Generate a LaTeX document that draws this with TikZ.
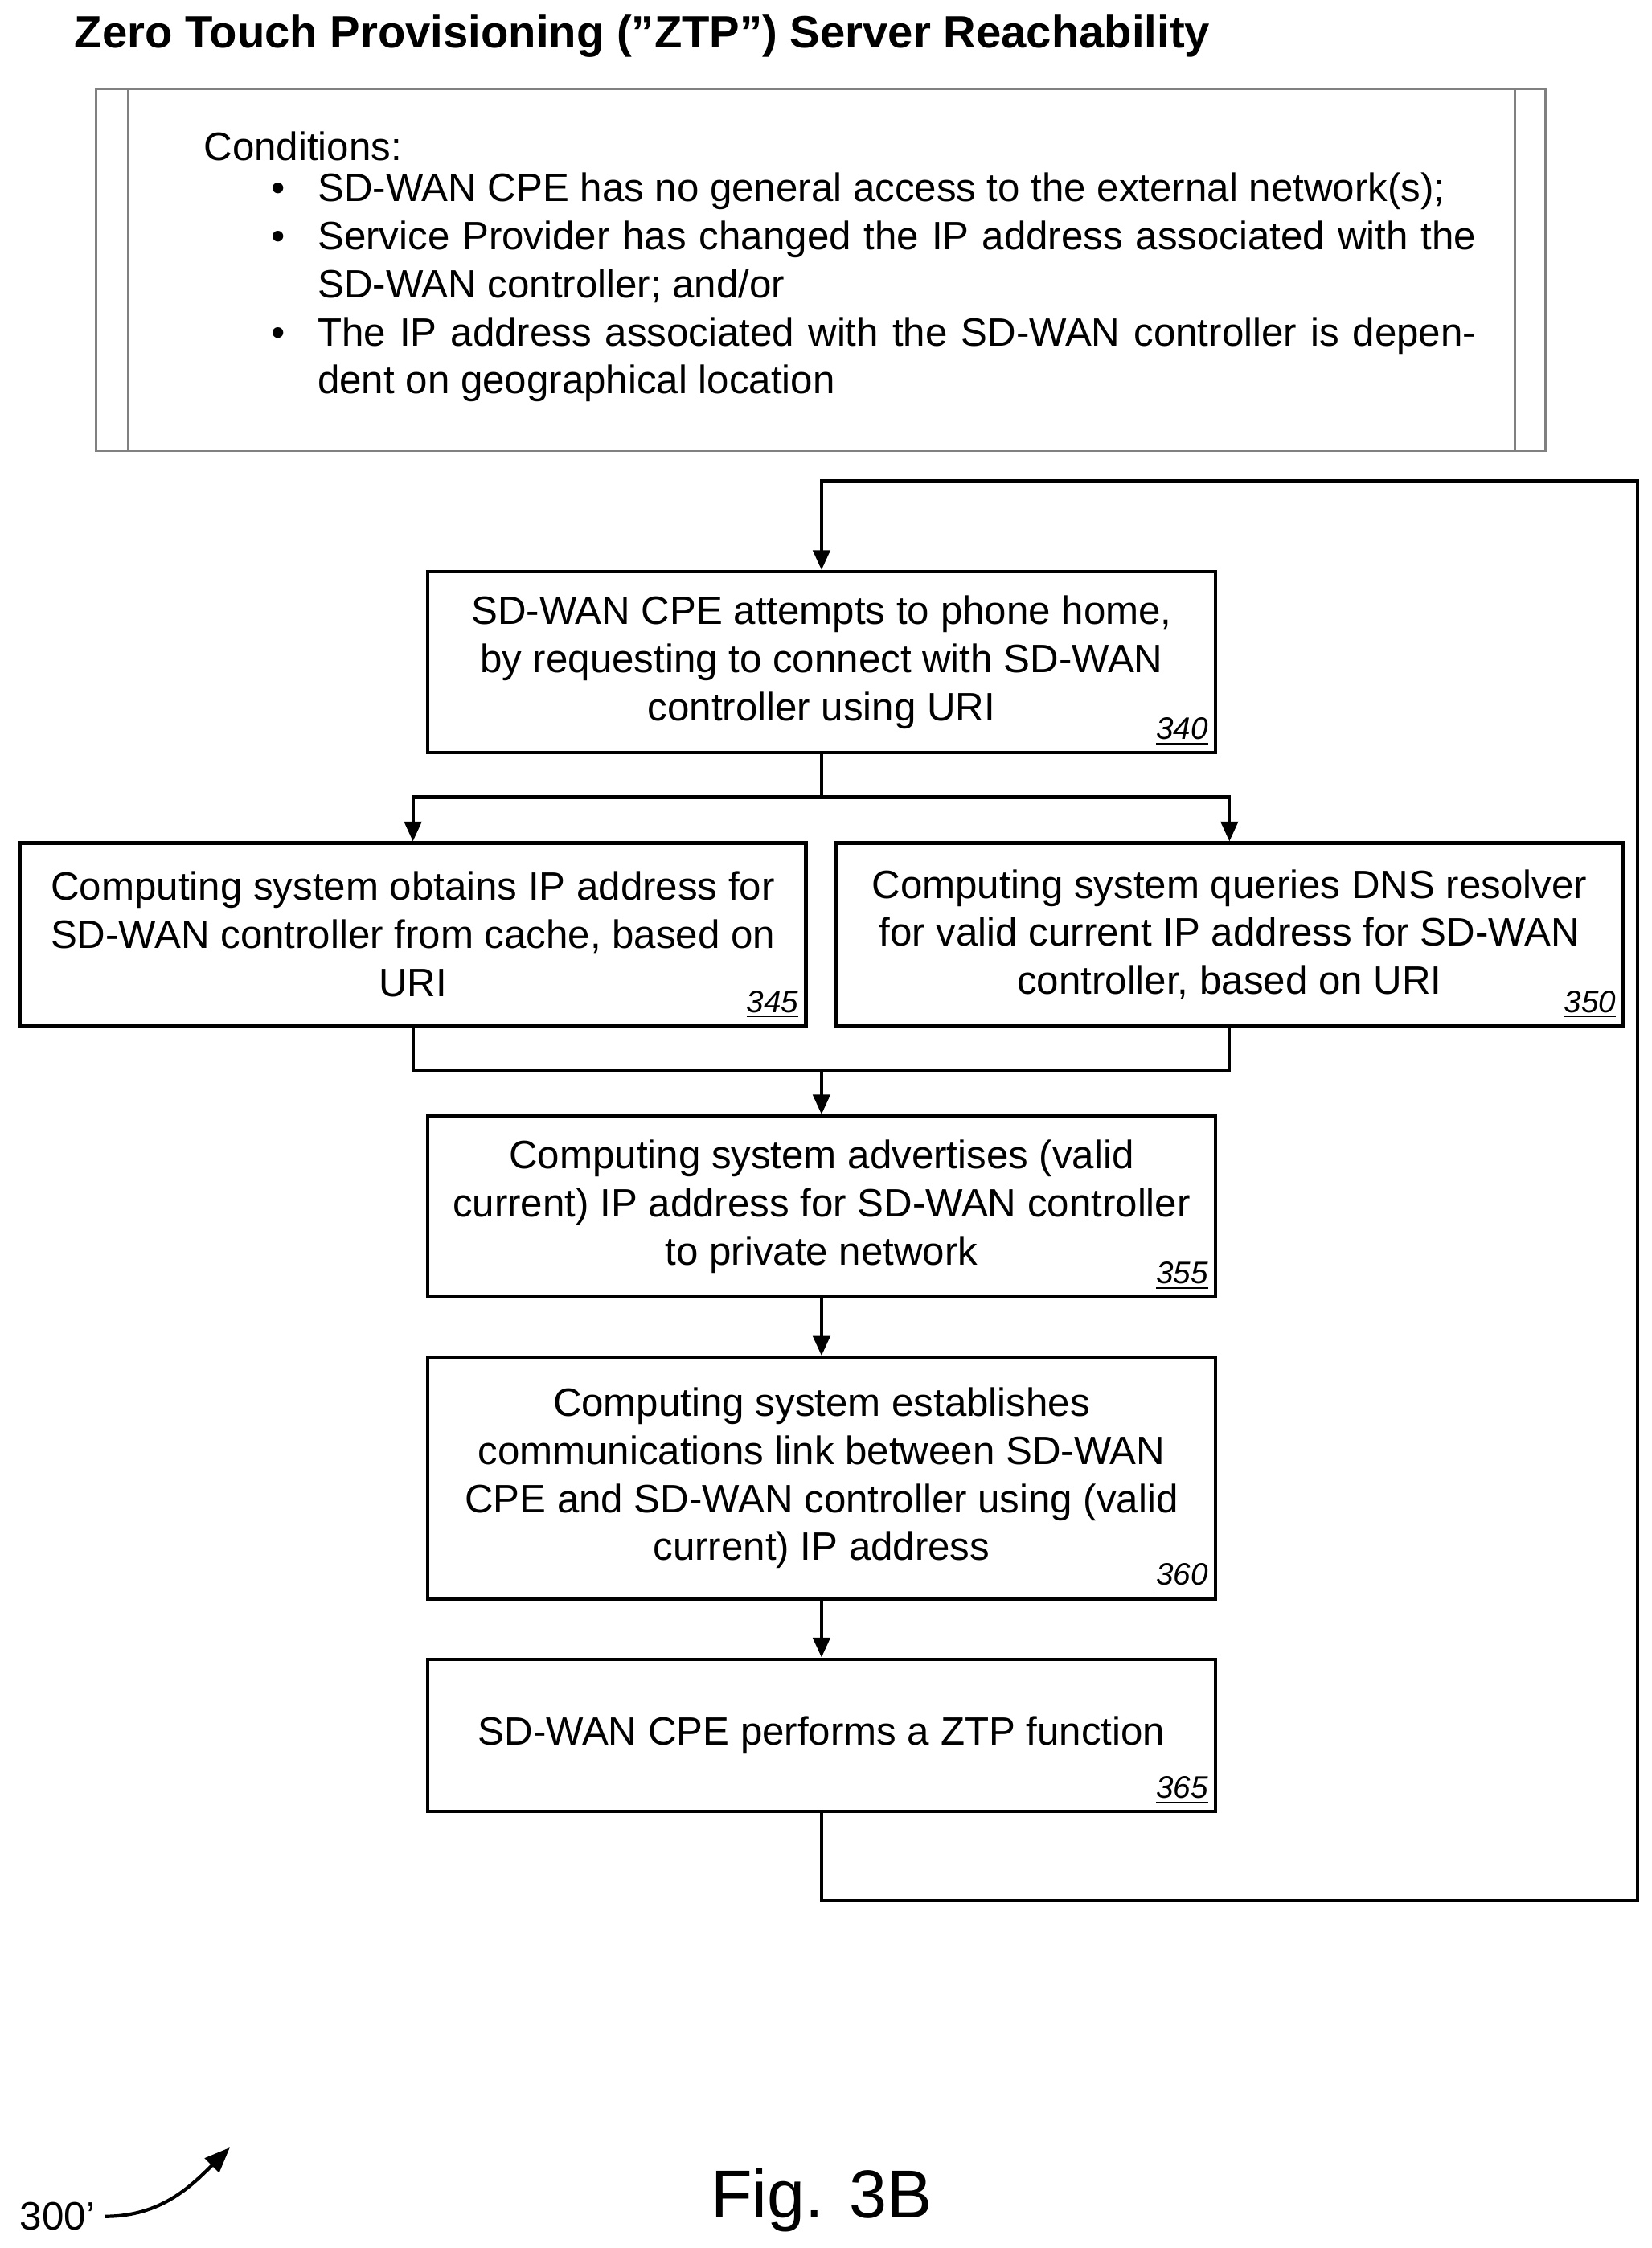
\documentclass[tikz,border=0pt]{standalone}
\usepackage{fontspec}
\setmainfont{Liberation Sans}
\usetikzlibrary{positioning,arrows.meta}
\tikzset{
  box/.style = {draw, line width=1.2pt, align=center, minimum width=9.79cm, inner sep=2pt},
  num/.style = {font=\fontsize{11}{12}\selectfont\itshape, anchor=south east, inner sep=3pt},
  flow/.style = {line width=1.2pt, -{Triangle[length=7pt,width=6pt]}},
  line/.style = {line width=1.2pt}
}
\newcommand{\refnum}[1]{\underline{#1}}
\begin{document}
\begin{tikzpicture}[x=0.01786cm, y=-0.01786cm, font=\fontsize{14}{17}\selectfont]
  \useasboundingbox (0,0) rectangle (1150,1565);

  \node[anchor=west, font=\fontsize{16}{19}\selectfont\bfseries] (title) at (45,25)
    {Zero Touch Provisioning ("ZTP") Server Reachability};

  % Conditions box
  \draw[gray, line width=0.8pt] (67,62) rectangle (1076,314);
  \draw[gray, line width=0.8pt] (89,62) -- (89,314) (1055,62) -- (1055,314);
  \node[anchor=west] (cond) at (135,102) {Conditions:};
  \node[anchor=north west, inner sep=0pt] (list) at (176,120)
  {\begin{minipage}[t]{15.2cm}
   \begin{list}{\textbullet}{\leftmargin=0.8cm\labelwidth=0.4cm\labelsep=0.4cm\itemsep=0pt\parsep=0pt\topsep=0pt}
   \item SD-WAN CPE has no general access to the external network(s);
   \item Service Provider has changed the IP address associated with the SD-WAN controller; and/or
   \item The IP address associated with the SD-WAN controller is dependent on geographical location
   \end{list}\end{minipage}};

  % steps
  \node[box, minimum height=2.25cm] (s340) at (572,461)
    {SD-WAN CPE attempts to phone home,\\ by requesting to connect with SD-WAN\\ controller using URI};
  \node[num] (n340) at (s340.south east) {\refnum{340}};

  \node[box, minimum width=9.77cm, minimum height=2.27cm] (s345) at (287.5,650.5)
    {Computing system obtains IP address for\\ SD-WAN controller from cache, based on\\ URI};
  \node[num] (n345) at (s345.south east) {\refnum{345}};

  \node[box, minimum height=2.27cm] (s350) at (856,650.5)
    {Computing system queries DNS resolver\\ for valid current IP address for SD-WAN\\ controller, based on URI};
  \node[num] (n350) at (s350.south east) {\refnum{350}};

  \node[box, minimum height=2.25cm] (s355) at (572,840)
    {Computing system advertises (valid\\ current) IP address for SD-WAN controller\\ to private network};
  \node[num] (n355) at (s355.south east) {\refnum{355}};

  \node[box, minimum height=3cm] (s360) at (572,1029)
    {Computing system establishes\\ communications link between SD-WAN\\ CPE and SD-WAN controller using (valid\\ current) IP address};
  \node[num] (n360) at (s360.south east) {\refnum{360}};

  \node[box, minimum height=1.89cm] (s365) at (572,1208)
    {SD-WAN CPE performs a ZTP function};
  \node[num] (n365) at (s365.south east) {\refnum{365}};

  % connectors
  \coordinate (split) at (572,555);
  \coordinate (merge) at (572,745);
  \coordinate (loopa) at (572,1323);
  \coordinate (loopb) at (1140,1323);
  \coordinate (loopc) at (1140,335);
  \coordinate (loopd) at (572,335);
  \draw[line] (s340.south) -- (split);
  \draw[flow] (split) -| (s345.north);
  \draw[flow] (split) -| (s350.north);
  \draw[line] (s345.south) |- (merge) -| (s350.south);
  \draw[flow] (merge) -- (s355.north);
  \draw[flow] (s355.south) -- (s360.north);
  \draw[flow] (s360.south) -- (s365.north);
  \draw[flow] (s365.south) -- (loopa) -- (loopb) -- (loopc) -- (loopd) -- (s340.north);

  % figure label
  \node (ref) at (40,1543) {300'};
  \coordinate (refend) at (160,1495);
  \draw[line width=1.2pt, -{Triangle[length=9pt,width=7pt]}] (ref.east) to[out=0, in=225] (refend);
  \node[font=\fontsize{24}{28}\selectfont] (fig) at (572,1532) {Fig. 3B};
\end{tikzpicture}
\end{document}
